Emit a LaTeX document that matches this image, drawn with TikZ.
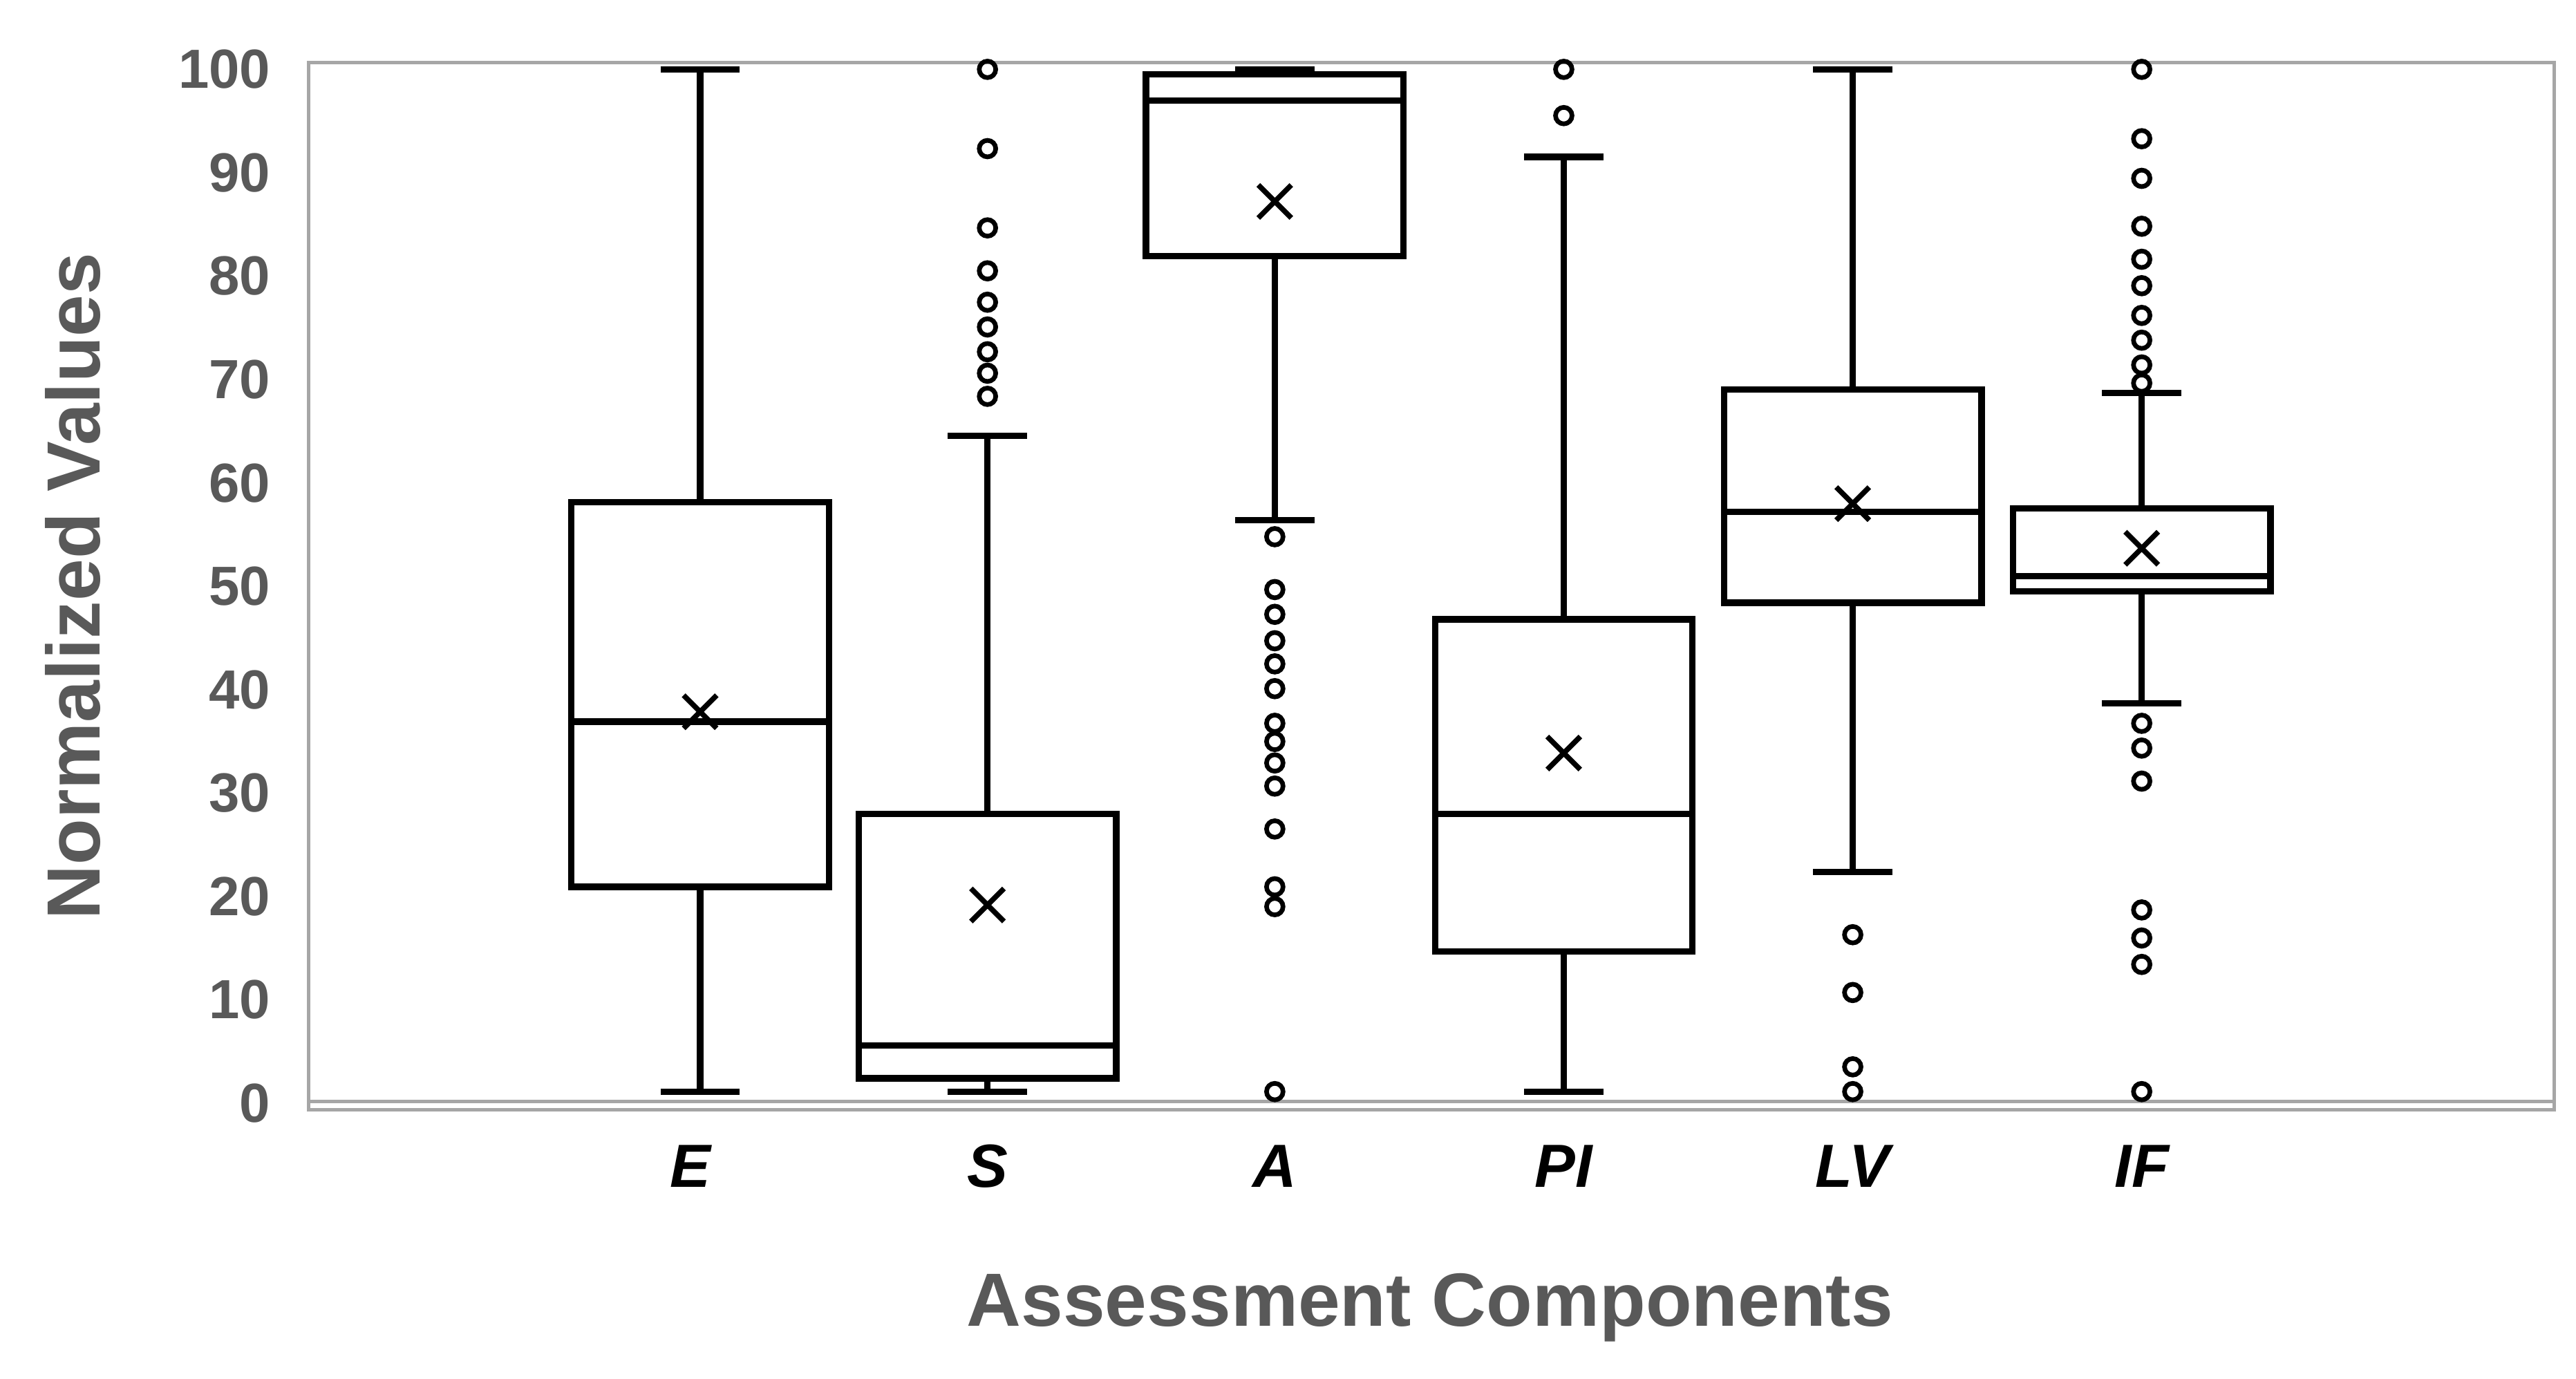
\documentclass[tikz,border=0pt]{standalone}
\usepackage{fontspec}
\setmainfont{Liberation Sans}
\definecolor{axg}{HTML}{595959}
\definecolor{frm}{HTML}{A6A6A6}
\tikzset{bx/.style={draw=black,line width=2.2pt,fill=white},
 wk/.style={draw=black,line width=2.2pt},
 outl/.style={draw=black,line width=1.6pt},
 tick/.style={font=\fontsize{19}{19}\selectfont\bfseries,text=axg,anchor=east},
 cat/.style={font=\fontsize{21}{21}\selectfont\bfseries\itshape,text=black}}
\newcommand{\bplot}[9]{%
 \draw[wk] (#1,#5)--(#1,#4) (#1,#3)--(#1,#6);
 \draw[wk] (#1-24,#5)--(#1+24,#5) (#1-24,#6)--(#1+24,#6);
 \draw[bx] (#1-78,#2) rectangle (#1+78,#4);
 \draw[wk] (#1-78,#3)--(#1+78,#3);
 \draw[wk,line width=1.8pt] (#8-10,#7-10)--(#8+10,#7+10) (#8-10,#7+10)--(#8+10,#7-10);
 \foreach \o in {#9}{\draw[outl] (#1,\o) circle (5);}
}
\begin{document}
\begin{tikzpicture}[x=0.02cm,y=-0.02cm]
\useasboundingbox (0,0) rectangle (1560,835);
\draw[frm,line width=1.2pt] (187,38) rectangle (1547,672);
\draw[frm,line width=1.2pt] (187,667)--(1547,667);
\foreach \v in {0,10,...,100}{\node[tick] (t\v) at (170,{668-6.26*\v}) {\v};}
\node[rotate=90,font=\fontsize{26}{26}\selectfont\bfseries,text=axg] (yt) at (44,355) {Normalized Values};
\node[font=\fontsize{26}{26}\selectfont\bfseries,text=axg] (xt) at (866,792) {Assessment Components};
\bplot{424}{537}{437}{304}{661}{42}{431}{424}{}
\bplot{598}{653}{633}{493}{661}{264}{548}{598}{42,90,138,164,183,198,213,226,240}
\bplot{772}{155}{61}{45}{315}{42}{122}{772}{325,357,372,388,402,417,438,449,462,476,502,537,549,661}
\bplot{947}{576}{493}{375}{661}{95}{456}{947}{42,70}
\bplot{1122}{365}{310}{236}{528}{42}{305}{1122}{566,601,646,661}
\bplot{1297}{358}{349}{308}{426}{238}{332}{1297}{42,84,108,137,157,173,191,206,221,232,438,453,473,551,568,584,661}
\node[cat] (cE) at (418,706) {E};
\node[cat] (cS) at (598,706) {S};
\node[cat] (cA) at (772,706) {A};
\node[cat] (cP) at (947,706) {PI};
\node[cat] (cL) at (1122,706) {LV};
\node[cat] (cI) at (1297,706) {IF};
\end{tikzpicture}
\end{document}
